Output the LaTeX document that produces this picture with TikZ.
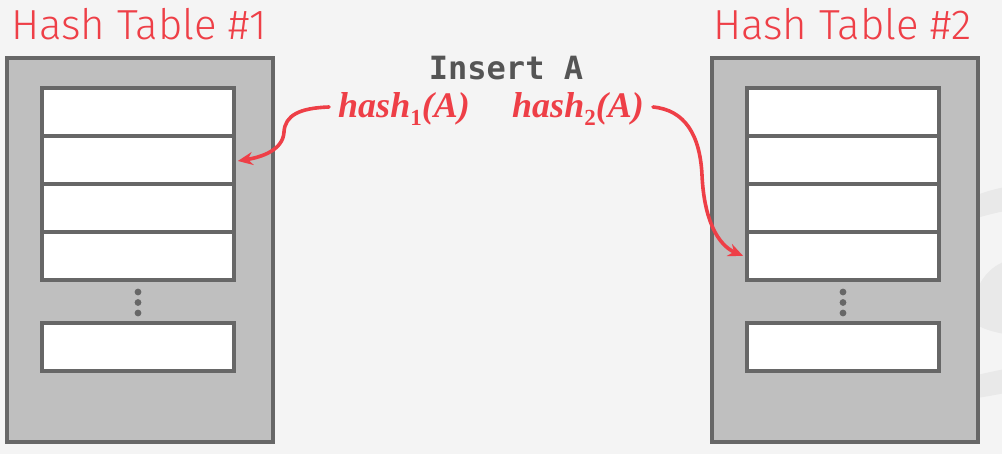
\documentclass[tikz,border=0pt]{standalone}
\usepackage{fontspec}
\usetikzlibrary{arrows.meta}
\newfontfamily\titlefont{Fira Sans}[UprightFont={* Light}]
\newfontfamily\codefont{DejaVu Sans Mono}
\newfontfamily\mathserif{Liberation Serif}
\definecolor{bg}{HTML}{F4F4F4}
\definecolor{hred}{HTML}{EE3F47}
\definecolor{tablefill}{HTML}{BFBFBF}
\definecolor{tableedge}{HTML}{676767}
\definecolor{codegray}{HTML}{555555}
\definecolor{ghost}{HTML}{E9E9E9}
% lowered upright index for the hash function names
\newcommand{\hashidx}[1]{\raisebox{-0.22em}{\upshape\fontsize{23}{23}\selectfont #1}}
\tikzset{
  table/.style={draw=tableedge, fill=tablefill, line width=4pt, rectangle,
    minimum width=266pt, minimum height=384pt, inner sep=0pt},
  slot/.style={draw=tableedge, fill=white, line width=3.6pt, rectangle,
    minimum width=192pt, minimum height=48pt, inner sep=0pt},
  dotmark/.style={fill=tableedge, draw=none},
  title/.style={text=hred, font=\titlefont\fontsize{42}{42}\selectfont, anchor=base west, inner sep=0pt},
  hashlabel/.style={text=hred, font=\mathserif\bfseries\itshape\fontsize{36}{36}\selectfont, anchor=base, inner sep=0pt},
  hasharrow/.style={draw=hred, line width=3.6pt, line cap=round, -{Stealth[length=15pt,width=13pt]}},
}
\begin{document}
\begin{tikzpicture}[x=1pt,y=-1pt]
  % canvas
  \fill[bg] (0,0) rectangle (1002,454);
  \useasboundingbox (0,0) rectangle (1002,454);
  % faint background marks at the right edge
  \begin{scope}
    \clip (0,0) rectangle (1002,454);
    \fill[ghost] (977,195) .. controls (990,190) and (1000,188) .. (1010,186) -- (1010,210) .. controls (1000,212) and (990,214) .. (977,218) -- cycle;
    \fill[ghost] (977,290) .. controls (985,270) and (1000,262) .. (1010,260) -- (1010,335) .. controls (998,333) and (985,330) .. (977,325) -- cycle;
    \fill[ghost] (977,375) .. controls (990,372) and (1000,370) .. (1010,368) -- (1010,392) .. controls (1000,394) and (990,396) .. (977,398) -- cycle;
  \end{scope}

  % table 1
  \node[title] (t1title) at (11,40) {Hash Table \#1};
  \node[table] (tab1) at (140,250) {};
  \node[slot] (s1a) at (138,112) {};
  \node[slot] (s1b) at (138,160) {};
  \node[slot] (s1c) at (138,208) {};
  \node[slot] (s1d) at (138,256) {};
  \fill[dotmark] (138,292) circle (3.4pt) (138,302.5) circle (3.4pt) (138,313) circle (3.4pt);
  \node[slot] (s1n) at (138,347) {};

  % table 2
  \node[title] (t2title) at (713,40) {Hash Table \#2};
  \node[table] (tab2) at (844.5,250) {};
  \node[slot] (s2a) at (843,112) {};
  \node[slot] (s2b) at (843,160) {};
  \node[slot] (s2c) at (843,208) {};
  \node[slot] (s2d) at (843,256) {};
  \fill[dotmark] (843,292) circle (3.4pt) (843,302.5) circle (3.4pt) (843,313) circle (3.4pt);
  \node[slot] (s2n) at (843,347) {};

  % labels
  \node[text=codegray, font=\codefont\bfseries\fontsize{32}{32}\selectfont, anchor=base, inner sep=0pt] (insert) at (506,80) {Insert A};
  \node[hashlabel] (h1) at (404,118) {hash\hashidx{1}(A)};
  \node[hashlabel] (h2) at (578,118) {hash\hashidx{2}(A)};

  % arrows
  \draw[hasharrow] ([xshift=-9pt,yshift=11pt]h1.base west) .. controls (300,108) and (285,115) .. (284,132)
        .. controls (283,150) and (262,157) .. ([xshift=2pt,yshift=-1pt]s1b.east);
  \draw[hasharrow] ([xshift=9pt,yshift=11pt]h2.base east) .. controls (685,110) and (700,135) .. (702,175)
        .. controls (704,220) and (718,245) .. ([xshift=-2pt]s2d.west);
\end{tikzpicture}
\end{document}
